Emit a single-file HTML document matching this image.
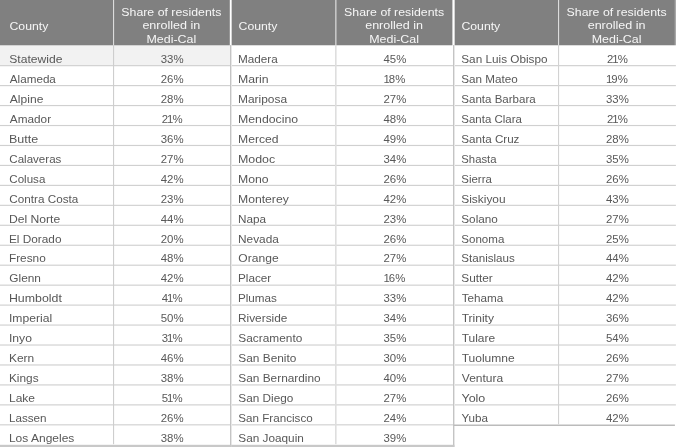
<!DOCTYPE html><html><head><meta charset="utf-8"><title>Medi-Cal enrollment by county</title><style>
html,body{margin:0;padding:0;background:#fff;}
body{width:676px;height:447px;overflow:hidden;position:relative;font-family:"Liberation Sans",sans-serif;font-size:11px;color:#585858;}
.a{position:absolute;}
.h{color:#f6f6f6;top:0;height:45px;font-size:11.25px;}
.hc span{position:absolute;top:19.75px;line-height:13.5px;white-space:nowrap;transform:scaleX(1.105);transform-origin:0 50%;}
.hs{text-align:center;}
.hs div{position:absolute;left:0;right:0;height:14px;line-height:14px;white-space:nowrap;transform:scaleX(1.09);transform-origin:50% 50%;}
.r{height:20px;line-height:20px;white-space:nowrap;}
.nm{transform:scaleX(1.075);transform-origin:0 50%;}
.n i{font-style:normal;margin:0 -1px;}
.n{text-align:center;transform:scaleX(1.036);transform-origin:50% 50%;}
svg{position:absolute;left:0;top:0;}
</style></head><body>
<svg width="676" height="447" viewBox="0 0 676 447"><rect x="0" y="45" width="230" height="20.05" fill="#f2f2f2"/><rect x="0.00" y="0" width="229.80" height="45.27" fill="#808080"/><rect x="113.0" y="0" width="1.1" height="45.27" fill="#dcdcdc"/><rect x="232.00" y="0" width="220.40" height="45.27" fill="#808080"/><rect x="335.0" y="0" width="1.6" height="45.27" fill="#c6c6c6"/><rect x="231" y="0" width="1" height="45.27" fill="#d4d4d4"/><rect x="455.00" y="0" width="219.90" height="45.27" fill="#808080"/><rect x="558.0" y="0" width="1.1" height="45.27" fill="#dcdcdc"/><rect x="454" y="0" width="1" height="45.27" fill="#d4d4d4"/><rect x="674.9" y="0" width="1.1" height="45.27" fill="#a8a8a8"/></svg>
<div class="a h hc" style="left:0px;width:113.0px;"><span style="left:8px;transform:translateX(1.45px) scaleX(1.0900)">County</span></div>
<div class="a h hs" style="left:114.1px;width:115.7px;"><div style="top:5px;transform:translateX(-0.5px) scaleX(1.095)">Share of residents</div><div style="top:18px;transform:translateX(-0.5px) scaleX(1.115)">enrolled in</div><div style="top:32px;transform:translateX(-0.5px) scaleX(1.105)">Medi-Cal</div></div>
<div class="a r nm" style="left:8px;top:49.19px;transform:translateX(1.29px) scaleX(1.1009)">Statewide</div>
<div class="a r n" style="left:114.1px;width:115.7px;top:49.19px;transform:translateX(0.3px) scaleX(1.036)">33%</div>
<div class="a r nm" style="left:8px;top:69.19px;transform:translateX(1.82px) scaleX(1.0605)">Alameda</div>
<div class="a r n" style="left:114.1px;width:115.7px;top:69.19px;transform:translateX(0.3px) scaleX(1.036)">26%</div>
<div class="a r nm" style="left:8px;top:89.19px;transform:translateX(1.82px) scaleX(1.0960)">Alpine</div>
<div class="a r n" style="left:114.1px;width:115.7px;top:89.19px;transform:translateX(0.3px) scaleX(1.036)">28%</div>
<div class="a r nm" style="left:8px;top:109.19px;transform:translateX(1.82px) scaleX(1.0705)">Amador</div>
<div class="a r n" style="left:114.1px;width:115.7px;top:109.19px;transform:translateX(0.3px) scaleX(1.036)">2<i>1</i>%</div>
<div class="a r nm" style="left:8px;top:129.19px;transform:translateX(0.94px) scaleX(1.1382)">Butte</div>
<div class="a r n" style="left:114.1px;width:115.7px;top:129.19px;transform:translateX(0.3px) scaleX(1.036)">36%</div>
<div class="a r nm" style="left:8px;top:149.19px;transform:translateX(1.29px) scaleX(1.0510)">Calaveras</div>
<div class="a r n" style="left:114.1px;width:115.7px;top:149.19px;transform:translateX(0.3px) scaleX(1.036)">27%</div>
<div class="a r nm" style="left:8px;top:169.19px;transform:translateX(1.29px) scaleX(1.0522)">Colusa</div>
<div class="a r n" style="left:114.1px;width:115.7px;top:169.19px;transform:translateX(0.3px) scaleX(1.036)">42%</div>
<div class="a r nm" style="left:8px;top:189.19px;transform:translateX(1.29px) scaleX(1.0642)">Contra Costa</div>
<div class="a r n" style="left:114.1px;width:115.7px;top:189.19px;transform:translateX(0.3px) scaleX(1.036)">23%</div>
<div class="a r nm" style="left:8px;top:209.19px;transform:translateX(0.94px) scaleX(1.1045)">Del Norte</div>
<div class="a r n" style="left:114.1px;width:115.7px;top:209.19px;transform:translateX(0.3px) scaleX(1.036)">44%</div>
<div class="a r nm" style="left:8px;top:229.19px;transform:translateX(0.94px) scaleX(1.0744)">El Dorado</div>
<div class="a r n" style="left:114.1px;width:115.7px;top:229.19px;transform:translateX(0.3px) scaleX(1.036)">20%</div>
<div class="a r nm" style="left:8px;top:248.19px;transform:translateX(0.94px) scaleX(1.0750)">Fresno</div>
<div class="a r n" style="left:114.1px;width:115.7px;top:248.19px;transform:translateX(0.3px) scaleX(1.036)">48%</div>
<div class="a r nm" style="left:8px;top:268.19px;transform:translateX(1.29px) scaleX(1.0786)">Glenn</div>
<div class="a r n" style="left:114.1px;width:115.7px;top:268.19px;transform:translateX(0.3px) scaleX(1.036)">42%</div>
<div class="a r nm" style="left:8px;top:288.19px;transform:translateX(0.94px) scaleX(1.1244)">Humboldt</div>
<div class="a r n" style="left:114.1px;width:115.7px;top:288.19px;transform:translateX(0.3px) scaleX(1.036)">4<i>1</i>%</div>
<div class="a r nm" style="left:8px;top:308.19px;transform:translateX(0.94px) scaleX(1.1033)">Imperial</div>
<div class="a r n" style="left:114.1px;width:115.7px;top:308.19px;transform:translateX(0.3px) scaleX(1.036)">50%</div>
<div class="a r nm" style="left:8px;top:328.19px;transform:translateX(0.94px) scaleX(1.1056)">Inyo</div>
<div class="a r n" style="left:114.1px;width:115.7px;top:328.19px;transform:translateX(0.3px) scaleX(1.036)">3<i>1</i>%</div>
<div class="a r nm" style="left:8px;top:348.19px;transform:translateX(0.94px) scaleX(1.0863)">Kern</div>
<div class="a r n" style="left:114.1px;width:115.7px;top:348.19px;transform:translateX(0.3px) scaleX(1.036)">46%</div>
<div class="a r nm" style="left:8px;top:368.19px;transform:translateX(0.94px) scaleX(1.0763)">Kings</div>
<div class="a r n" style="left:114.1px;width:115.7px;top:368.19px;transform:translateX(0.3px) scaleX(1.036)">38%</div>
<div class="a r nm" style="left:8px;top:388.19px;transform:translateX(0.94px) scaleX(1.0939)">Lake</div>
<div class="a r n" style="left:114.1px;width:115.7px;top:388.19px;transform:translateX(0.3px) scaleX(1.036)">5<i>1</i>%</div>
<div class="a r nm" style="left:8px;top:408.19px;transform:translateX(0.94px) scaleX(1.0617)">Lassen</div>
<div class="a r n" style="left:114.1px;width:115.7px;top:408.19px;transform:translateX(0.3px) scaleX(1.036)">26%</div>
<div class="a r nm" style="left:8px;top:428.19px;transform:translateX(0.94px) scaleX(1.0911)">Los Angeles</div>
<div class="a r n" style="left:114.1px;width:115.7px;top:428.19px;transform:translateX(0.3px) scaleX(1.036)">38%</div>
<div class="a h hc" style="left:232.0px;width:103.0px;"><span style="left:6px;transform:translateX(0.55px) scaleX(1.0900)">County</span></div>
<div class="a h hs" style="left:336.1px;width:115.8px;"><div style="top:5px;transform:translateX(0.2px) scaleX(1.095)">Share of residents</div><div style="top:18px;transform:translateX(0.2px) scaleX(1.115)">enrolled in</div><div style="top:32px;transform:translateX(0.2px) scaleX(1.105)">Medi-Cal</div></div>
<div class="a r nm" style="left:238px;top:49.19px;transform:translateX(0.00px) scaleX(1.0666)">Madera</div>
<div class="a r n" style="left:336.6px;width:115.8px;top:49.19px;transform:translateX(0.0px) scaleX(1.036)">45%</div>
<div class="a r nm" style="left:238px;top:69.19px;transform:translateX(0.00px) scaleX(1.1130)">Marin</div>
<div class="a r n" style="left:336.6px;width:115.8px;top:69.19px;transform:translateX(0.0px) scaleX(1.036)"><i>1</i>8%</div>
<div class="a r nm" style="left:238px;top:89.19px;transform:translateX(0.00px) scaleX(1.0845)">Mariposa</div>
<div class="a r n" style="left:336.6px;width:115.8px;top:89.19px;transform:translateX(0.0px) scaleX(1.036)">27%</div>
<div class="a r nm" style="left:238px;top:109.19px;transform:translateX(0.00px) scaleX(1.1163)">Mendocino</div>
<div class="a r n" style="left:336.6px;width:115.8px;top:109.19px;transform:translateX(0.0px) scaleX(1.036)">48%</div>
<div class="a r nm" style="left:238px;top:129.19px;transform:translateX(0.00px) scaleX(1.1059)">Merced</div>
<div class="a r n" style="left:336.6px;width:115.8px;top:129.19px;transform:translateX(0.0px) scaleX(1.036)">49%</div>
<div class="a r nm" style="left:238px;top:149.19px;transform:translateX(0.00px) scaleX(1.1256)">Modoc</div>
<div class="a r n" style="left:336.6px;width:115.8px;top:149.19px;transform:translateX(0.0px) scaleX(1.036)">34%</div>
<div class="a r nm" style="left:238px;top:169.19px;transform:translateX(0.00px) scaleX(1.1111)">Mono</div>
<div class="a r n" style="left:336.6px;width:115.8px;top:169.19px;transform:translateX(0.0px) scaleX(1.036)">26%</div>
<div class="a r nm" style="left:238px;top:189.19px;transform:translateX(0.00px) scaleX(1.1071)">Monterey</div>
<div class="a r n" style="left:336.6px;width:115.8px;top:189.19px;transform:translateX(0.0px) scaleX(1.036)">42%</div>
<div class="a r nm" style="left:238px;top:209.19px;transform:translateX(0.00px) scaleX(1.0666)">Napa</div>
<div class="a r n" style="left:336.6px;width:115.8px;top:209.19px;transform:translateX(0.0px) scaleX(1.036)">23%</div>
<div class="a r nm" style="left:238px;top:229.19px;transform:translateX(0.00px) scaleX(1.0777)">Nevada</div>
<div class="a r n" style="left:336.6px;width:115.8px;top:229.19px;transform:translateX(0.0px) scaleX(1.036)">26%</div>
<div class="a r nm" style="left:238px;top:248.19px;transform:translateX(0.35px) scaleX(1.0967)">Orange</div>
<div class="a r n" style="left:336.6px;width:115.8px;top:248.19px;transform:translateX(0.0px) scaleX(1.036)">27%</div>
<div class="a r nm" style="left:238px;top:268.19px;transform:translateX(0.00px) scaleX(1.0656)">Placer</div>
<div class="a r n" style="left:336.6px;width:115.8px;top:268.19px;transform:translateX(0.0px) scaleX(1.036)"><i>1</i>6%</div>
<div class="a r nm" style="left:238px;top:288.19px;transform:translateX(0.00px) scaleX(1.0602)">Plumas</div>
<div class="a r n" style="left:336.6px;width:115.8px;top:288.19px;transform:translateX(0.0px) scaleX(1.036)">33%</div>
<div class="a r nm" style="left:238px;top:308.19px;transform:translateX(0.00px) scaleX(1.0774)">Riverside</div>
<div class="a r n" style="left:336.6px;width:115.8px;top:308.19px;transform:translateX(0.0px) scaleX(1.036)">34%</div>
<div class="a r nm" style="left:238px;top:328.19px;transform:translateX(0.35px) scaleX(1.0786)">Sacramento</div>
<div class="a r n" style="left:336.6px;width:115.8px;top:328.19px;transform:translateX(0.0px) scaleX(1.036)">35%</div>
<div class="a r nm" style="left:238px;top:348.19px;transform:translateX(0.35px) scaleX(1.0771)">San Benito</div>
<div class="a r n" style="left:336.6px;width:115.8px;top:348.19px;transform:translateX(0.0px) scaleX(1.036)">30%</div>
<div class="a r nm" style="left:238px;top:368.19px;transform:translateX(0.35px) scaleX(1.0768)">San Bernardino</div>
<div class="a r n" style="left:336.6px;width:115.8px;top:368.19px;transform:translateX(0.0px) scaleX(1.036)">40%</div>
<div class="a r nm" style="left:238px;top:388.19px;transform:translateX(0.35px) scaleX(1.0715)">San Diego</div>
<div class="a r n" style="left:336.6px;width:115.8px;top:388.19px;transform:translateX(0.0px) scaleX(1.036)">27%</div>
<div class="a r nm" style="left:238px;top:408.19px;transform:translateX(0.35px) scaleX(1.0569)">San Francisco</div>
<div class="a r n" style="left:336.6px;width:115.8px;top:408.19px;transform:translateX(0.0px) scaleX(1.036)">24%</div>
<div class="a r nm" style="left:238px;top:428.19px;transform:translateX(0.35px) scaleX(1.0703)">San Joaquin</div>
<div class="a r n" style="left:336.6px;width:115.8px;top:428.19px;transform:translateX(0.0px) scaleX(1.036)">39%</div>
<div class="a h hc" style="left:455.0px;width:103.0px;"><span style="left:5px;transform:translateX(1.40px) scaleX(1.0900)">County</span></div>
<div class="a h hs" style="left:559.3px;width:115.8px;"><div style="top:5px;transform:translateX(-0.3px) scaleX(1.095)">Share of residents</div><div style="top:18px;transform:translateX(-0.3px) scaleX(1.115)">enrolled in</div><div style="top:32px;transform:translateX(-0.3px) scaleX(1.105)">Medi-Cal</div></div>
<div class="a r nm" style="left:460px;top:49.19px;transform:translateX(1.28px) scaleX(1.0682)">San Luis Obispo</div>
<div class="a r n" style="left:559.1px;width:115.8px;top:49.19px;transform:translateX(0.55px) scaleX(1.036)">2<i>1</i>%</div>
<div class="a r nm" style="left:460px;top:69.19px;transform:translateX(1.28px) scaleX(1.0618)">San Mateo</div>
<div class="a r n" style="left:559.1px;width:115.8px;top:69.19px;transform:translateX(0.55px) scaleX(1.036)"><i>1</i>9%</div>
<div class="a r nm" style="left:460px;top:89.19px;transform:translateX(1.28px) scaleX(1.0491)">Santa Barbara</div>
<div class="a r n" style="left:559.1px;width:115.8px;top:89.19px;transform:translateX(0.55px) scaleX(1.036)">33%</div>
<div class="a r nm" style="left:460px;top:109.19px;transform:translateX(1.28px) scaleX(1.0429)">Santa Clara</div>
<div class="a r n" style="left:559.1px;width:115.8px;top:109.19px;transform:translateX(0.55px) scaleX(1.036)">2<i>1</i>%</div>
<div class="a r nm" style="left:460px;top:129.19px;transform:translateX(1.28px) scaleX(1.0569)">Santa Cruz</div>
<div class="a r n" style="left:559.1px;width:115.8px;top:129.19px;transform:translateX(0.55px) scaleX(1.036)">28%</div>
<div class="a r nm" style="left:460px;top:149.19px;transform:translateX(1.28px) scaleX(1.0296)">Shasta</div>
<div class="a r n" style="left:559.1px;width:115.8px;top:149.19px;transform:translateX(0.55px) scaleX(1.036)">35%</div>
<div class="a r nm" style="left:460px;top:169.19px;transform:translateX(1.28px) scaleX(1.0412)">Sierra</div>
<div class="a r n" style="left:559.1px;width:115.8px;top:169.19px;transform:translateX(0.55px) scaleX(1.036)">26%</div>
<div class="a r nm" style="left:460px;top:189.19px;transform:translateX(1.28px) scaleX(1.0814)">Siskiyou</div>
<div class="a r n" style="left:559.1px;width:115.8px;top:189.19px;transform:translateX(0.55px) scaleX(1.036)">43%</div>
<div class="a r nm" style="left:460px;top:209.19px;transform:translateX(1.28px) scaleX(1.0688)">Solano</div>
<div class="a r n" style="left:559.1px;width:115.8px;top:209.19px;transform:translateX(0.55px) scaleX(1.036)">27%</div>
<div class="a r nm" style="left:460px;top:229.19px;transform:translateX(1.28px) scaleX(1.0508)">Sonoma</div>
<div class="a r n" style="left:559.1px;width:115.8px;top:229.19px;transform:translateX(0.55px) scaleX(1.036)">25%</div>
<div class="a r nm" style="left:460px;top:248.19px;transform:translateX(1.28px) scaleX(1.0540)">Stanislaus</div>
<div class="a r n" style="left:559.1px;width:115.8px;top:248.19px;transform:translateX(0.55px) scaleX(1.036)">44%</div>
<div class="a r nm" style="left:460px;top:268.19px;transform:translateX(1.28px) scaleX(1.0728)">Sutter</div>
<div class="a r n" style="left:559.1px;width:115.8px;top:268.19px;transform:translateX(0.55px) scaleX(1.036)">42%</div>
<div class="a r nm" style="left:460px;top:288.19px;transform:translateX(1.63px) scaleX(1.0633)">Tehama</div>
<div class="a r n" style="left:559.1px;width:115.8px;top:288.19px;transform:translateX(0.55px) scaleX(1.036)">42%</div>
<div class="a r nm" style="left:460px;top:308.19px;transform:translateX(1.63px) scaleX(1.0953)">Trinity</div>
<div class="a r n" style="left:559.1px;width:115.8px;top:308.19px;transform:translateX(0.55px) scaleX(1.036)">36%</div>
<div class="a r nm" style="left:460px;top:328.19px;transform:translateX(1.63px) scaleX(1.0880)">Tulare</div>
<div class="a r n" style="left:559.1px;width:115.8px;top:328.19px;transform:translateX(0.55px) scaleX(1.036)">54%</div>
<div class="a r nm" style="left:460px;top:348.19px;transform:translateX(1.63px) scaleX(1.0918)">Tuolumne</div>
<div class="a r n" style="left:559.1px;width:115.8px;top:348.19px;transform:translateX(0.55px) scaleX(1.036)">26%</div>
<div class="a r nm" style="left:460px;top:368.19px;transform:translateX(1.81px) scaleX(1.0918)">Ventura</div>
<div class="a r n" style="left:559.1px;width:115.8px;top:368.19px;transform:translateX(0.55px) scaleX(1.036)">27%</div>
<div class="a r nm" style="left:460px;top:388.19px;transform:translateX(1.45px) scaleX(1.1355)">Yolo</div>
<div class="a r n" style="left:559.1px;width:115.8px;top:388.19px;transform:translateX(0.55px) scaleX(1.036)">26%</div>
<div class="a r nm" style="left:460px;top:408.19px;transform:translateX(1.45px) scaleX(1.0597)">Yuba</div>
<div class="a r n" style="left:559.1px;width:115.8px;top:408.19px;transform:translateX(0.55px) scaleX(1.036)">42%</div>
<svg width="676" height="447" viewBox="0 0 676 447"><rect x="0.00" y="65.08" width="230.80" height="1.15" fill="#d0d0d0"/><rect x="0.00" y="85.03" width="230.80" height="1.15" fill="#d0d0d0"/><rect x="0.00" y="104.98" width="230.80" height="1.15" fill="#d0d0d0"/><rect x="0.00" y="124.94" width="230.80" height="1.15" fill="#d0d0d0"/><rect x="0.00" y="144.89" width="230.80" height="1.15" fill="#d0d0d0"/><rect x="0.00" y="164.85" width="230.80" height="1.15" fill="#d0d0d0"/><rect x="0.00" y="184.81" width="230.80" height="1.15" fill="#d0d0d0"/><rect x="0.00" y="204.76" width="230.80" height="1.15" fill="#d0d0d0"/><rect x="0.00" y="224.71" width="230.80" height="1.15" fill="#d0d0d0"/><rect x="0.00" y="244.67" width="230.80" height="1.15" fill="#d0d0d0"/><rect x="0.00" y="264.62" width="230.80" height="1.15" fill="#d0d0d0"/><rect x="0.00" y="284.58" width="230.80" height="1.15" fill="#d0d0d0"/><rect x="0.00" y="304.53" width="230.80" height="1.15" fill="#d0d0d0"/><rect x="0.00" y="324.49" width="230.80" height="1.15" fill="#d0d0d0"/><rect x="0.00" y="344.44" width="230.80" height="1.15" fill="#d0d0d0"/><rect x="0.00" y="364.40" width="230.80" height="1.15" fill="#d0d0d0"/><rect x="0.00" y="384.35" width="230.80" height="1.15" fill="#d0d0d0"/><rect x="0.00" y="404.31" width="230.80" height="1.15" fill="#d0d0d0"/><rect x="0.00" y="424.26" width="230.80" height="1.15" fill="#d0d0d0"/><rect x="113.00" y="45.07" width="1.10" height="399.10" fill="#cecece"/><rect x="230.00" y="45.07" width="1.40" height="401.93" fill="#c4c4c4"/><rect x="0.00" y="444.80" width="231.80" height="3.00" fill="#c8c8c8"/><rect x="232.00" y="65.08" width="221.40" height="1.15" fill="#d0d0d0"/><rect x="232.00" y="85.03" width="221.40" height="1.15" fill="#d0d0d0"/><rect x="232.00" y="104.98" width="221.40" height="1.15" fill="#d0d0d0"/><rect x="232.00" y="124.94" width="221.40" height="1.15" fill="#d0d0d0"/><rect x="232.00" y="144.89" width="221.40" height="1.15" fill="#d0d0d0"/><rect x="232.00" y="164.85" width="221.40" height="1.15" fill="#d0d0d0"/><rect x="232.00" y="184.81" width="221.40" height="1.15" fill="#d0d0d0"/><rect x="232.00" y="204.76" width="221.40" height="1.15" fill="#d0d0d0"/><rect x="232.00" y="224.71" width="221.40" height="1.15" fill="#d0d0d0"/><rect x="232.00" y="244.67" width="221.40" height="1.15" fill="#d0d0d0"/><rect x="232.00" y="264.62" width="221.40" height="1.15" fill="#d0d0d0"/><rect x="232.00" y="284.58" width="221.40" height="1.15" fill="#d0d0d0"/><rect x="232.00" y="304.53" width="221.40" height="1.15" fill="#d0d0d0"/><rect x="232.00" y="324.49" width="221.40" height="1.15" fill="#d0d0d0"/><rect x="232.00" y="344.44" width="221.40" height="1.15" fill="#d0d0d0"/><rect x="232.00" y="364.40" width="221.40" height="1.15" fill="#d0d0d0"/><rect x="232.00" y="384.35" width="221.40" height="1.15" fill="#d0d0d0"/><rect x="232.00" y="404.31" width="221.40" height="1.15" fill="#d0d0d0"/><rect x="232.00" y="424.26" width="221.40" height="1.15" fill="#d0d0d0"/><rect x="335.00" y="45.07" width="1.60" height="399.10" fill="#dedede"/><rect x="453.00" y="45.07" width="1.40" height="401.93" fill="#c4c4c4"/><rect x="232.00" y="444.80" width="222.40" height="3.00" fill="#c8c8c8"/><rect x="455.00" y="65.08" width="220.90" height="1.15" fill="#d0d0d0"/><rect x="455.00" y="85.03" width="220.90" height="1.15" fill="#d0d0d0"/><rect x="455.00" y="104.98" width="220.90" height="1.15" fill="#d0d0d0"/><rect x="455.00" y="124.94" width="220.90" height="1.15" fill="#d0d0d0"/><rect x="455.00" y="144.89" width="220.90" height="1.15" fill="#d0d0d0"/><rect x="455.00" y="164.85" width="220.90" height="1.15" fill="#d0d0d0"/><rect x="455.00" y="184.81" width="220.90" height="1.15" fill="#d0d0d0"/><rect x="455.00" y="204.76" width="220.90" height="1.15" fill="#d0d0d0"/><rect x="455.00" y="224.71" width="220.90" height="1.15" fill="#d0d0d0"/><rect x="455.00" y="244.67" width="220.90" height="1.15" fill="#d0d0d0"/><rect x="455.00" y="264.62" width="220.90" height="1.15" fill="#d0d0d0"/><rect x="455.00" y="284.58" width="220.90" height="1.15" fill="#d0d0d0"/><rect x="455.00" y="304.53" width="220.90" height="1.15" fill="#d0d0d0"/><rect x="455.00" y="324.49" width="220.90" height="1.15" fill="#d0d0d0"/><rect x="455.00" y="344.44" width="220.90" height="1.15" fill="#d0d0d0"/><rect x="455.00" y="364.40" width="220.90" height="1.15" fill="#d0d0d0"/><rect x="455.00" y="384.35" width="220.90" height="1.15" fill="#d0d0d0"/><rect x="455.00" y="404.31" width="220.90" height="1.15" fill="#d0d0d0"/><rect x="558.00" y="45.07" width="1.10" height="379.14" fill="#d2d2d2"/><rect x="453.50" y="424.50" width="221.40" height="1.50" fill="#bbbbbb"/></svg>
</body></html>
